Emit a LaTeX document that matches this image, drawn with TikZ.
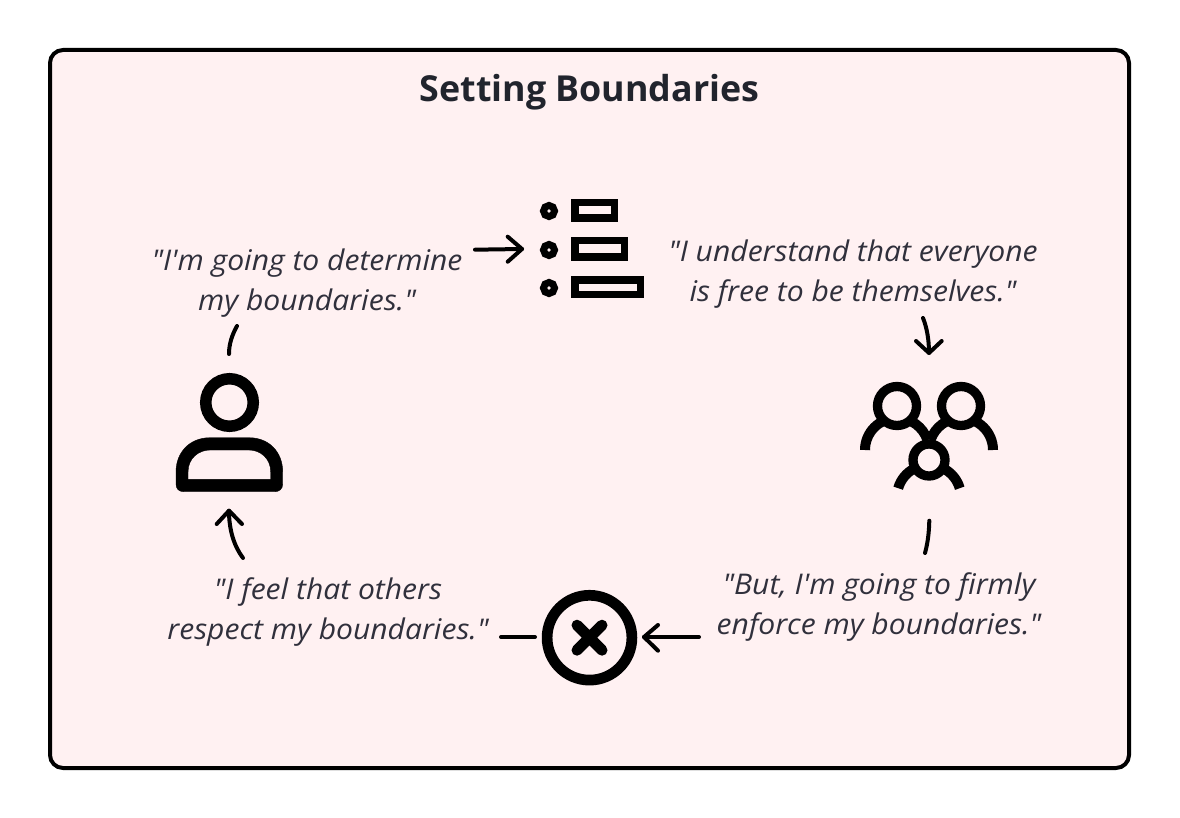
\documentclass[tikz,border=0pt]{standalone}
\usepackage{fontspec}
\setmainfont{Open Sans}[Ligatures=TeXOff]
\newfontfamily\quotefont{Open Sans}[Ligatures=TeXOff,FakeStretch=1.055]
\definecolor{panelbg}{HTML}{FFF1F2}
\definecolor{inktext}{HTML}{30303C}
\definecolor{titleink}{HTML}{21242D}
\tikzset{
  x=1pt,y=-1pt,
  quote/.style={font=\quotefont\itshape\fontsize{28.5}{40}\selectfont,text=inktext,align=center,inner sep=0pt,anchor=center},
  conn/.style={line width=4pt,line cap=round,line join=round,draw=black},
  iconline/.style={draw=black,fill=panelbg},
  ring/.style={circle,draw=black,fill=panelbg,inner sep=0pt}
}
\begin{document}
\begin{tikzpicture}
\useasboundingbox (0,0) rectangle (1180,818);
\draw[line width=4pt,fill=panelbg,rounded corners=13pt] (50,50) rectangle (1129,768);
\node[font=\bfseries\fontsize{35.8}{40}\selectfont,text=titleink,inner sep=0pt,anchor=base] (title) at (589.5,101.7) {Setting Boundaries};
\node[quote] (a) at (307,283) {"I'm going to determine\\my boundaries."};
\node[quote] (b) at (853,274) {"I understand that everyone\\is free to be themselves."};
\node[quote] (c) at (879,607) {"But, I'm going to firmly\\enforce my boundaries."};
\node[quote] (d) at (328,612) {"I feel that others\\respect my boundaries."};
% list icon
\foreach \n/\y in {1/211,2/250,3/288}{
  \node[ring,line width=7pt,minimum size=11pt] (dot\n) at (549,\y) {};
}
\draw[iconline,line width=7.5pt] (574.75,202.75) rectangle (614.25,218.25);
\draw[iconline,line width=7.5pt] (574.75,240.75) rectangle (624.25,257.25);
\draw[iconline,line width=7.5pt] (574.75,279.75) rectangle (640.25,294.25);
% person icon
\draw[black,fill=black,even odd rule]
  (176,484) -- (176,472) .. controls (176,452) and (190,437.7) .. (210,437.7) -- (249,437.7)
  .. controls (269,437.7) and (282.7,452) .. (282.7,472) -- (282.7,484)
  .. controls (282.7,489) and (279,491.7) .. (275,491.7) -- (184,491.7)
  .. controls (179,491.7) and (176,489) .. (176,484) -- cycle
  (188,479.3) -- (270.7,479.3) -- (270.7,472) .. controls (270.7,458) and (260,450) .. (249,450)
  -- (210,450) .. controls (199,450) and (188,458) .. (188,472) -- cycle;
\node[ring,line width=11.5pt,minimum size=47.5pt] (person) at (229.5,402.5) {};
% people icon
\draw[line width=10pt] (865,450) arc[start angle=-180,end angle=-18,radius=32];
\draw[line width=10pt] (993,450) arc[start angle=0,end angle=-162,radius=32];
\draw[line width=10pt] (898.2,488.2) arc[start angle=-164,end angle=-16,radius=32];
\node[ring,line width=9.3pt,minimum size=39pt] (p1) at (897,406) {};
\node[ring,line width=9.3pt,minimum size=39pt] (p2) at (961,406) {};
\node[ring,line width=9.3pt,minimum size=32pt] (p3) at (929,460) {};
% cross icon
\node[ring,line width=10.7pt,minimum size=84.8pt] (cross) at (589.5,637.7) {};
\draw[line width=11pt,line cap=round] (577,625.2) -- (602,650.2) (602,625.2) -- (577,650.2);
% connectors
\coordinate (a1) at (475,249.7); \coordinate (a2) at (522,249);
\coordinate (a2u) at (507.7,236.7); \coordinate (a2d) at (507.7,261.7);
\draw[conn] (a1) -- (a2); \draw[conn] (a2u) -- (a2) -- (a2d);
\coordinate (b1) at (923,318); \coordinate (b2) at (929,353);
\coordinate (b2l) at (916,341); \coordinate (b2r) at (941.7,341);
\draw[conn] (b1) .. controls (927,328) and (929,340) .. (b2); \draw[conn] (b2l) -- (b2) -- (b2r);
\coordinate (c1) at (929.3,520.7); \coordinate (c2) at (925,553);
\draw[conn] (c1) .. controls (929,532) and (928,542) .. (c2);
\coordinate (d1) at (699,637); \coordinate (d2) at (644,637);
\coordinate (d2u) at (658,625); \coordinate (d2d) at (658,650.7);
\draw[conn] (d1) -- (d2); \draw[conn] (d2u) -- (d2) -- (d2d);
\coordinate (e1) at (535,637); \coordinate (e2) at (501,637);
\draw[conn] (e1) -- (e2);
\coordinate (f1) at (243,558); \coordinate (f2) at (229,510.7);
\coordinate (f2l) at (216.7,524); \coordinate (f2r) at (242,524);
\draw[conn] (f1) .. controls (234,546) and (229,530) .. (f2); \draw[conn] (f2l) -- (f2) -- (f2r);
\coordinate (g1) at (229,354); \coordinate (g2) at (237,326);
\draw[conn] (g1) .. controls (229,344) and (232,335) .. (g2);
\end{tikzpicture}
\end{document}
